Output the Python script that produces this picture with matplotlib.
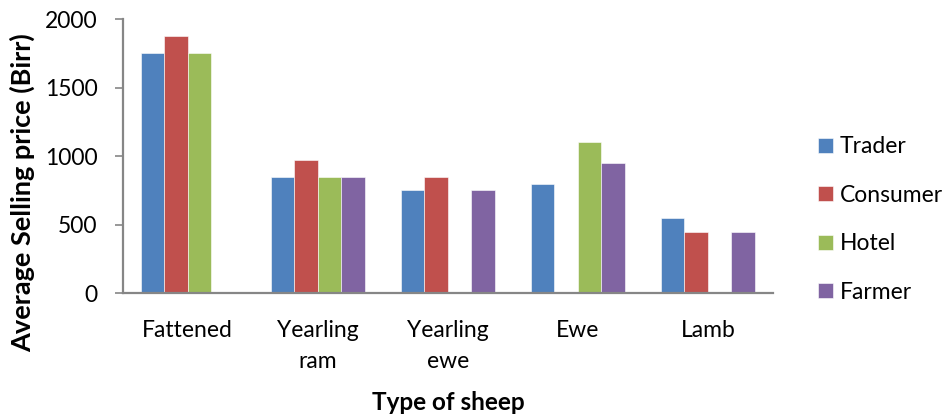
import numpy as np
import matplotlib
matplotlib.use('Agg')
from matplotlib import pyplot as plt

plt.rcParams['font.family'] = ['Lato', 'DejaVu Sans']

categories = ['Fattened', 'Yearling\nram', 'Yearling\newe', 'Ewe', 'Lamb']
sellers = ['Trader', 'Consumer', 'Hotel', 'Farmer']
trader = [1750, 850, 750, 800, 550]
consumer = [1875, 975, 850, np.nan, 450]
hotel = [1750, 850, np.nan, 1100, np.nan]
farmer = [np.nan, 850, 750, 950, 450]
colors = ['#4F81BD', '#C0504D', '#9BBB59', '#8064A2']

fig = plt.figure(figsize=(9.49, 4.15), dpi=100)
ax = fig.add_axes([0.1293, 0.2933, 0.6852, 0.6607])

x = np.arange(len(categories))
w = 0.181
for i, (vals, name) in enumerate(zip([trader, consumer, hotel, farmer], sellers)):
    ax.bar(x + (i - 1.5) * w, vals, w, color=colors[i], label=name,
           edgecolor='white', linewidth=0.4)

ax.set_xlim(-0.5, len(categories) - 0.5)
ax.set_ylim(0, 2000)
ax.set_yticks([0, 500, 1000, 1500, 2000])
ax.set_xticks(x)
ax.set_xticklabels(categories, fontsize=16.5, linespacing=1.6)
ax.tick_params(axis='x', length=0, pad=19)
ax.tick_params(axis='y', length=6, width=1.2, color='#868686', labelsize=16.5, pad=12)

for s in ['top', 'right']:
    ax.spines[s].set_visible(False)
for s in ['left', 'bottom']:
    ax.spines[s].set_color('#868686')
    ax.spines[s].set_linewidth(1.6)

fig.text(22 / 949, 1 - 193 / 415, 'Average Selling price (Birr)', rotation=90,
         ha='center', va='center', fontsize=19.5, fontweight='bold')
fig.text(448 / 949, 1 - 402 / 415, 'Type of sheep', ha='center', va='center',
         fontsize=17.5, fontweight='bold')

ax.legend(loc='center left', bbox_to_anchor=(0.852, 0.471), bbox_transform=fig.transFigure,
          frameon=False, fontsize=16.5, handlelength=0.65, handleheight=0.65,
          handletextpad=0.3, labelspacing=1.2, borderaxespad=0)

fig.savefig('out.png', dpi=100)
